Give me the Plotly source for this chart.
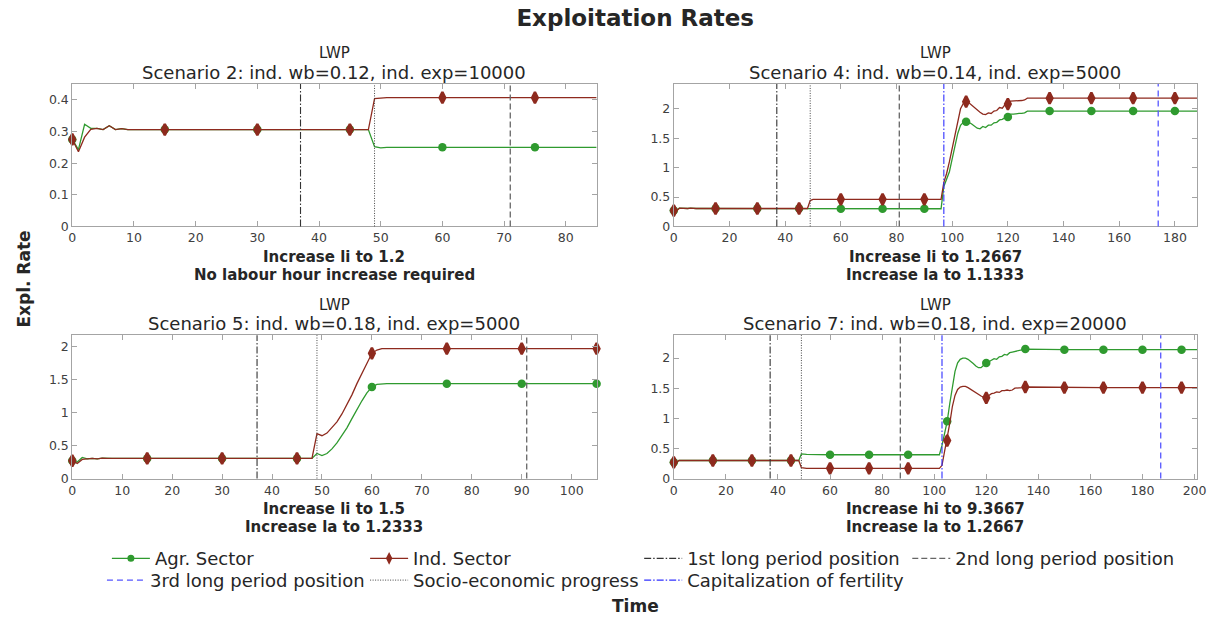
import plotly.graph_objects as go

W, H = 1222, 623

# ---------------- data ----------------
# Scenario 2
t_s2 = [0, 1, 2, 3, 4, 5, 6, 7, 8, 9, 10, 11, 12, 13, 15, 30, 45, 48, 49, 50, 51, 60, 75, 85]
agr_s2 = [0.275, 0.243, 0.323, 0.310, 0.310, 0.306, 0.318, 0.306, 0.309, 0.306, 0.306, 0.306, 0.308,
          0.306, 0.306, 0.306, 0.306, 0.306, 0.252, 0.248, 0.250, 0.250, 0.250, 0.250]
ind_s2 = [0.275, 0.236, 0.282, 0.307, 0.310, 0.306, 0.318, 0.306, 0.309, 0.306, 0.306, 0.306, 0.308,
          0.306, 0.306, 0.306, 0.306, 0.306, 0.404, 0.405, 0.407, 0.407, 0.407, 0.407]

# Scenario 4
t_s4 = [0, 1, 2, 3, 4, 5, 6, 7, 8, 10, 15, 30, 45, 48, 49, 50, 51, 60, 75, 90, 96,
        97, 98, 99, 100, 101, 102, 103, 104, 105, 106, 107, 108, 109, 110, 111, 112, 113, 114,
        115, 116, 117, 118, 119, 120, 121, 122, 123, 124, 125, 126, 127, 128, 135, 150, 165, 180, 188]
agr_s4 = [0.27, 0.27, 0.31, 0.305, 0.31, 0.305, 0.31, 0.305, 0.305, 0.305, 0.305, 0.305, 0.305, 0.305,
          0.30, 0.295, 0.30, 0.30, 0.30, 0.30, 0.30,
          0.68, 0.80, 0.93, 1.15, 1.38, 1.58, 1.72, 1.77, 1.78, 1.77, 1.74, 1.70, 1.67, 1.66, 1.70,
          1.68, 1.72, 1.72, 1.76, 1.77, 1.81, 1.82, 1.85, 1.86, 1.91, 1.91, 1.92, 1.92, 1.92, 1.93,
          1.96, 1.96, 1.96, 1.96, 1.96, 1.96, 1.96]
ind_s4 = [0.27, 0.27, 0.31, 0.305, 0.31, 0.305, 0.31, 0.305, 0.305, 0.305, 0.305, 0.305, 0.305, 0.305,
          0.44, 0.46, 0.46, 0.46, 0.46, 0.46, 0.46,
          0.75, 0.90, 1.10, 1.32, 1.58, 1.82, 2.00, 2.09, 2.12, 2.10, 2.06, 2.01, 1.97, 1.94, 1.91,
          1.90, 1.93, 1.92, 1.96, 1.97, 2.02, 2.01, 2.07, 2.08, 2.13, 2.13, 2.14, 2.14, 2.14, 2.15,
          2.18, 2.18, 2.18, 2.18, 2.18, 2.18, 2.18]

# Scenario 5
t_s5 = [0, 1, 2, 3, 4, 5, 6, 7, 8, 10, 15, 30, 45, 48, 49, 50, 51, 52, 53, 54, 55, 56, 57, 58,
        59, 60, 61, 62, 63, 75, 90, 105]
agr_s5 = [0.27, 0.25, 0.32, 0.30, 0.305, 0.30, 0.31, 0.305, 0.305, 0.305, 0.305, 0.305, 0.305, 0.305,
          0.38, 0.35, 0.38, 0.45, 0.54, 0.65, 0.77, 0.91, 1.05, 1.18, 1.30, 1.39, 1.43, 1.44, 1.44,
          1.44, 1.44, 1.44]
ind_s5 = [0.27, 0.23, 0.29, 0.30, 0.305, 0.30, 0.31, 0.305, 0.305, 0.305, 0.305, 0.305, 0.305, 0.305,
          0.68, 0.65, 0.69, 0.77, 0.86, 0.98, 1.12, 1.27, 1.44, 1.60, 1.76, 1.90, 1.95, 1.97, 1.97,
          1.97, 1.97, 1.97]

# Scenario 7
t_s7 = [0, 1, 2, 3, 4, 5, 6, 8, 10, 15, 30, 45, 48, 49, 50, 51, 60, 75, 90, 102,
        103, 104, 105, 106, 107, 108, 109, 110, 111, 112, 113, 114, 115, 116, 117, 118, 119, 120,
        121, 122, 123, 124, 125, 126, 127, 128, 129, 130, 131, 132, 133, 134, 135, 150, 165, 180, 195, 201]
agr_s7 = [0.27, 0.27, 0.30, 0.30, 0.31, 0.30, 0.30, 0.30, 0.30, 0.30, 0.30, 0.30, 0.30,
          0.41, 0.40, 0.40, 0.395, 0.395, 0.395, 0.395,
          0.55, 0.78, 0.95, 1.25, 1.55, 1.78, 1.92, 1.98, 2.00, 2.00, 1.98, 1.95, 1.91, 1.87, 1.84,
          1.84, 1.88, 1.92, 1.94, 1.96, 1.99, 1.98, 2.02, 2.03, 2.06, 2.05, 2.09, 2.10, 2.11, 2.12,
          2.13, 2.14, 2.15, 2.14, 2.14, 2.14, 2.14, 2.14]
ind_s7 = [0.27, 0.27, 0.30, 0.30, 0.31, 0.30, 0.30, 0.30, 0.30, 0.30, 0.30, 0.30, 0.30,
          0.18, 0.17, 0.17, 0.17, 0.17, 0.17, 0.17,
          0.22, 0.45, 0.63, 0.92, 1.20, 1.38, 1.48, 1.52, 1.53, 1.53, 1.51, 1.48, 1.46, 1.43, 1.40,
          1.37, 1.35, 1.34, 1.38, 1.41, 1.42, 1.44, 1.43, 1.46, 1.46, 1.47, 1.46, 1.47, 1.50, 1.50,
          1.50, 1.51, 1.52, 1.51, 1.51, 1.51, 1.51, 1.51]

scenario_titles = ["Scenario 2: ind. wb=0.12, ind. exp=10000",
                   "Scenario 4: ind. wb=0.14, ind. exp=5000",
                   "Scenario 5: ind. wb=0.18, ind. exp=5000",
                   "Scenario 7: ind. wb=0.18, ind. exp=20000"]
xlabel_line1 = ["Increase li to 1.2", "Increase li to 1.2667", "Increase li to 1.5", "Increase hi to 9.3667"]
xlabel_line2 = ["No labour hour increase required", "Increase la to 1.1333",
                "Increase la to 1.2333", "Increase la to 1.2667"]

x_ranges = [85, 188, 105, 201]
y_ranges = [0.45, 2.42, 2.175, 2.38]
x_dticks = [10, 20, 10, 20]
y_dticks = [0.1, 0.5, 0.5, 0.5]

first_long = [37, 37, 37, 37]
socio_econ = [49, 49, 49, 49]
second_long = [71, 81, 91, 87]
capitalization = [None, 97, None, 103]
third_long = [None, 174, None, 187]

series = [(t_s2, agr_s2, ind_s2), (t_s4, agr_s4, ind_s4), (t_s5, agr_s5, ind_s5), (t_s7, agr_s7, ind_s7)]

# ---------------- styling ----------------
FONT = "DejaVu Sans"
GREEN = "#2f9a2f"
RED = "#8e2a1e"
AXC = "#a4a4a4"
TXT = "#262626"

px_x = lambda p: p / W
px_y = lambda p: 1 - p / H

xdoms = [(69, 599), (677, 1206), (69, 599), (677, 1206)]
ydoms = [(85, 229), (85, 229), (339, 484), (339, 484)]

vline_styles = {
    "first": dict(color="#333333", width=1.1, dash="7px,2px,1.5px,2px"),
    "second": dict(color="#666666", width=1.3, dash="6px,3px"),
    "socio": dict(color="#444444", width=1, dash="1px,1.5px"),
    "cap": dict(color="#3030ff", width=1.1, dash="7px,2px,1.5px,2px"),
    "third": dict(color="#5555ff", width=1.3, dash="6px,4px"),
}

fig = go.Figure()
shapes = []
annotations = []

for i, (t, agr, ind) in enumerate(series):
    sfx = "" if i == 0 else str(i + 1)
    xa, ya = "x" + sfx, "y" + sfx
    mk_t = [tt for tt in t if tt % 15 == 0]
    mk_agr = [v for tt, v in zip(t, agr) if tt % 15 == 0]
    mk_ind = [v for tt, v in zip(t, ind) if tt % 15 == 0]
    fig.add_trace(go.Scatter(x=t, y=agr, mode="lines", line=dict(color=GREEN, width=1.3),
                             xaxis=xa, yaxis=ya, showlegend=False, hoverinfo="skip"))
    fig.add_trace(go.Scatter(x=mk_t, y=mk_agr, mode="markers", cliponaxis=False,
                             marker=dict(color=GREEN, size=8.5, symbol="circle"),
                             xaxis=xa, yaxis=ya, showlegend=False))
    fig.add_trace(go.Scatter(x=t, y=ind, mode="lines", line=dict(color=RED, width=1.3),
                             xaxis=xa, yaxis=ya, showlegend=False, hoverinfo="skip"))
    fig.add_trace(go.Scatter(x=mk_t, y=mk_ind, mode="markers", cliponaxis=False,
                             marker=dict(color=RED, size=8, symbol="diamond-tall",
                                         line=dict(color=RED, width=2.5)),
                             xaxis=xa, yaxis=ya, showlegend=False))

    for key, arr in (("first", first_long), ("socio", socio_econ), ("second", second_long),
                     ("cap", capitalization), ("third", third_long)):
        v = arr[i]
        if v is None:
            continue
        shapes.append(dict(type="line", xref=xa, yref=ya + " domain", x0=v, x1=v, y0=0, y1=1,
                           line=vline_styles[key], layer="above"))

    x0, x1 = xdoms[i]
    y0, y1 = ydoms[i]
    cx = px_x((x0 + x1) / 2)
    axis_common = dict(showline=True, linecolor=AXC, linewidth=1, mirror="ticks", ticks="inside",
                       ticklen=5, tickcolor=AXC, showgrid=False, zeroline=False,
                       tickfont=dict(family=FONT, size=12.5, color="#404040"))
    fig.layout["xaxis" + sfx] = dict(domain=[px_x(x0), px_x(x1)], anchor=ya, range=[0, x_ranges[i]],
                                     tick0=0, dtick=x_dticks[i], **axis_common)
    fig.layout["yaxis" + sfx] = dict(domain=[px_y(y1), px_y(y0)], anchor=xa, range=[0, y_ranges[i]],
                                     tick0=0, dtick=y_dticks[i], **axis_common)

    annotations.append(dict(text="LWP", x=cx, y=px_y(y0 - 31), xref="paper", yref="paper",
                            showarrow=False, xanchor="center", yanchor="middle",
                            font=dict(family=FONT, size=15, color=TXT)))
    annotations.append(dict(text=scenario_titles[i], x=cx, y=px_y(y0 - 12), xref="paper", yref="paper",
                            showarrow=False, xanchor="center", yanchor="middle",
                            font=dict(family=FONT, size=18, color=TXT)))
    annotations.append(dict(text=xlabel_line1[i], x=cx, y=px_y(y1 + 31), xref="paper", yref="paper",
                            showarrow=False, xanchor="center", yanchor="middle",
                            font=dict(family=FONT, size=15, color=TXT, weight="bold")))
    annotations.append(dict(text=xlabel_line2[i], x=cx, y=px_y(y1 + 49), xref="paper", yref="paper",
                            showarrow=False, xanchor="center", yanchor="middle",
                            font=dict(family=FONT, size=15, color=TXT, weight="bold")))

annotations.append(dict(text="Expl. Rate", x=px_x(20), y=px_y(282), xref="paper", yref="paper",
                        showarrow=False, xanchor="center", yanchor="middle", textangle=-90,
                        font=dict(family=FONT, size=17, color=TXT, weight="bold")))
annotations.append(dict(text="Time", x=px_x(638), y=px_y(613), xref="paper", yref="paper",
                        showarrow=False, xanchor="center", yanchor="middle",
                        font=dict(family=FONT, size=17, color=TXT, weight="bold")))

# ---------------- legend (one legend per entry to place like the original) ----------------
legend_items = [
    ("Agr. Sector", dict(mode="lines+markers", line=dict(color=GREEN, width=1.3),
                         marker=dict(color=GREEN, size=7, symbol="circle")), 104, 565),
    ("Ind. Sector", dict(mode="lines+markers", line=dict(color=RED, width=1.3),
                         marker=dict(color=RED, size=6, symbol="diamond-tall",
                                     line=dict(color=RED, width=2))), 365, 565),
    ("1st long period position", dict(mode="lines", line=vline_styles["first"]), 642, 565),
    ("2nd long period position", dict(mode="lines", line=vline_styles["second"]), 913, 565),
    ("3rd long period position", dict(mode="lines", line=vline_styles["third"]), 99, 587),
    ("Socio-economic progress", dict(mode="lines", line=vline_styles["socio"]), 365, 587),
    ("Capitalization of fertility", dict(mode="lines", line=vline_styles["cap"]), 642, 587),
]
legend_layouts = {}
for k, (name, style, lx, ly) in enumerate(legend_items):
    lname = "legend" if k == 0 else f"legend{k + 1}"
    fig.add_trace(go.Scatter(x=[None], y=[None], name=name, showlegend=True, legend=lname, **style))
    legend_layouts[lname] = dict(x=px_x(lx), y=px_y(ly), xanchor="left", yanchor="middle",
                                 bgcolor="rgba(0,0,0,0)", borderwidth=0, itemwidth=38,
                                 font=dict(family=FONT, size=18, color=TXT),
                                 tracegroupgap=0, itemclick=False, itemdoubleclick=False)

fig.update_layout(
    width=W, height=H, autosize=False,
    margin=dict(l=0, r=0, t=0, b=0),
    paper_bgcolor="white", plot_bgcolor="white",
    title=dict(text="Exploitation Rates", x=px_x(638), y=px_y(18), xanchor="center", yanchor="middle",
               xref="paper", yref="paper",
               font=dict(family=FONT, size=23, color=TXT, weight="bold")),
    shapes=shapes, annotations=annotations,
    **legend_layouts,
)

fig.write_html("out.html")
